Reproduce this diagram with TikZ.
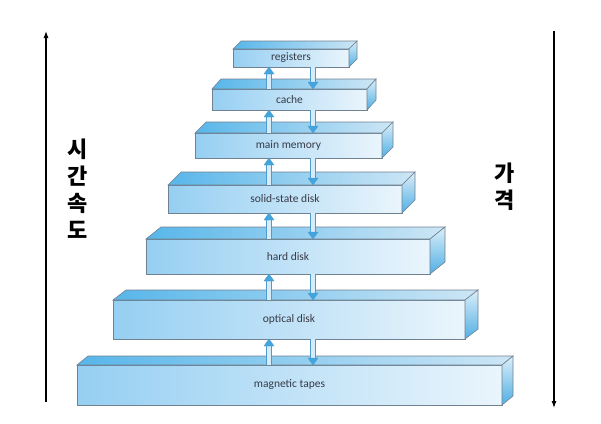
\documentclass[tikz,border=0pt]{standalone}
\usepackage{fontspec}
\setmainfont{Carlito}
\newfontfamily\kr{Noto Sans CJK KR}
\usetikzlibrary{calc,arrows.meta}
\definecolor{frontL}{RGB}{150,207,242}
\definecolor{frontR}{RGB}{234,245,252}
\definecolor{topL}{RGB}{88,182,234}
\definecolor{topR}{RGB}{205,230,245}
\definecolor{sideT}{RGB}{220,238,249}
\definecolor{sideB}{RGB}{80,175,228}
\definecolor{edgec}{RGB}{112,130,145}
\definecolor{shaftc}{RGB}{215,236,249}
\definecolor{arrline}{RGB}{80,155,205}
\definecolor{headc}{RGB}{65,165,222}
\definecolor{txtc}{RGB}{55,58,70}
\tikzset{
  layer/.style={draw=edgec, line width=0.6pt, left color=frontL, right color=frontR,
    inner sep=0pt, outer sep=0pt, text=txtc, font=\fontsize{11.5}{13}\selectfont},
  topface/.style={draw=edgec, line width=0.6pt, left color=topL, right color=topR},
  sideface/.style={draw=edgec, line width=0.6pt, top color=sideT, bottom color=sideB},
  arrshaft/.style={fill=shaftc},
  arredge/.style={draw=arrline, line width=0.5pt},
  arrhead/.style={fill=headc, draw=arrline, line width=0.4pt},
  sidearrow/.style={draw=black, line width=1.1pt, -{Latex[length=7pt,width=5pt]}},
  krlabel/.style={align=center, text=black, font=\kr\bfseries\fontsize{22}{27}\selectfont}
}
\newcommand\uplink[2]{%
  \fill[arrshaft] let \p1=(#1), \p2=(#2) in (\x1-2.5pt,\y1) rectangle (\x1+2.5pt,\y2-7pt);
  \draw[arredge] let \p1=(#1), \p2=(#2) in (\x1-2.5pt,\y1) -- (\x1-2.5pt,\y2-7pt) (\x1+2.5pt,\y1) -- (\x1+2.5pt,\y2-7pt);
  \filldraw[arrhead] let \p1=(#1), \p2=(#2) in (\x1-5pt,\y2-7pt) -- (\x1,\y2) -- (\x1+5pt,\y2-7pt) -- cycle;}
\newcommand\downlink[2]{%
  \fill[arrshaft] let \p1=(#1), \p2=(#2) in (\x1-2.5pt,\y1) rectangle (\x1+2.5pt,\y2+7pt);
  \draw[arredge] let \p1=(#1), \p2=(#2) in (\x1-2.5pt,\y1) -- (\x1-2.5pt,\y2+7pt) (\x1+2.5pt,\y1) -- (\x1+2.5pt,\y2+7pt);
  \filldraw[arrhead] let \p1=(#1), \p2=(#2) in (\x1-5pt,\y2+7pt) -- (\x1,\y2) -- (\x1+5pt,\y2+7pt) -- cycle;}
\begin{document}
\begin{tikzpicture}[x=1pt,y=-1pt]
\useasboundingbox[fill=white] (0,0) rectangle (601,423);
% front faces
\node[layer, minimum width=116pt, minimum height=18pt] (reg) at (291,58) {registers};
\node[layer, minimum width=155pt, minimum height=21pt] (cac) at (289.5,99.5) {cache};
\node[layer, minimum width=187pt, minimum height=25pt] (mem) at (288.5,145.5) {main memory};
\node[layer, minimum width=234pt, minimum height=28pt] (ssd) at (285,199) {solid-state disk};
\node[layer, minimum width=284pt, minimum height=35pt] (hdd) at (288,256.5) {hard disk};
\node[layer, minimum width=352pt, minimum height=39pt] (opt) at (289,319.5) {optical disk};
\node[layer, minimum width=425pt, minimum height=40pt] (mag) at (289.5,385) {magnetic tapes};
% top and side faces
\foreach \n/\dx/\dy in {reg/8/8, cac/9/10, mem/11/11, ssd/13/13, hdd/15/12, opt/13/10, mag/11/9}{
  \shade[topface] (\n.north west) -- ++(\dx,-\dy) -- ([shift={(\dx,-\dy)}]\n.north east) -- (\n.north east) -- cycle;
  \shade[sideface] (\n.north east) -- ++(\dx,-\dy) -- ([shift={(\dx,-\dy)}]\n.south east) -- (\n.south east) -- cycle;
}
% link columns
\coordinate (ux) at (269,0);
\coordinate (dx) at (313,0);
\foreach \lo/\hi in {cac/reg, mem/cac, ssd/mem, hdd/ssd, opt/hdd, mag/opt}{
  \uplink{ux |- \lo.north}{ux |- \hi.south}
  \downlink{dx |- \hi.south}{dx |- \lo.north}
}
% side arrows
\coordinate (l0) at (46,402);
\coordinate (l1) at (46,31);
\coordinate (r0) at (554,31);
\coordinate (r1) at (554,408);
\draw[sidearrow] (l0) -- (l1);
\draw[sidearrow] (r0) -- (r1);
\node[krlabel] (speed) at (78,189) {시\\간\\속\\도};
\node[krlabel] (price) at (505,187) {가\\격};
\end{tikzpicture}
\end{document}
